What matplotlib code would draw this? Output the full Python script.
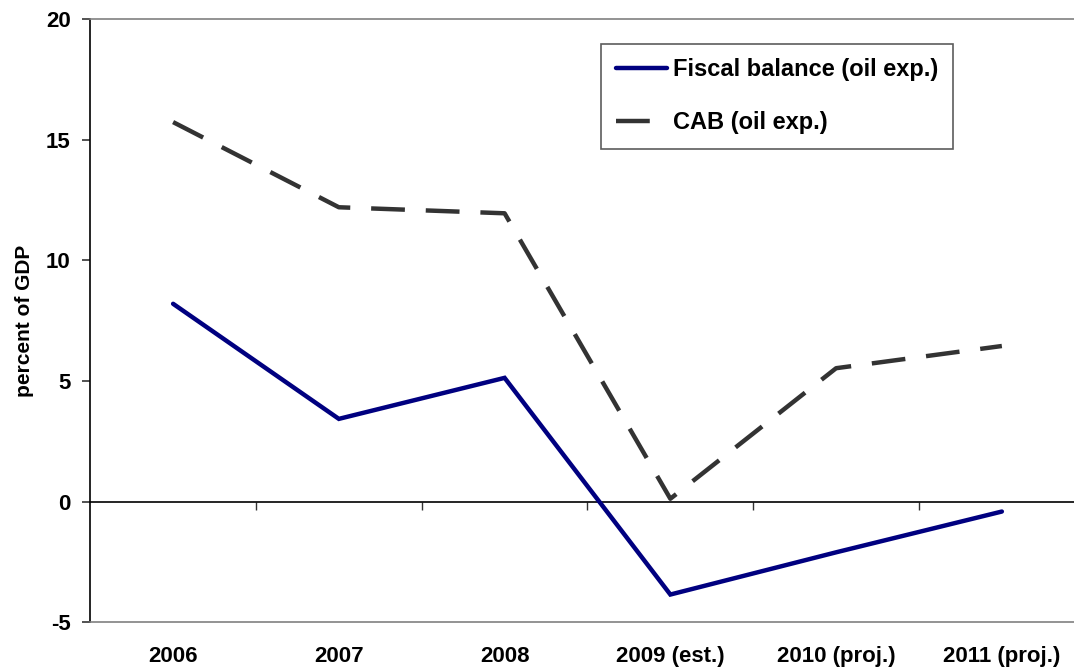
import matplotlib
matplotlib.use("Agg")
import matplotlib.pyplot as plt
import numpy as np

plt.rcParams['font.family'] = ['Liberation Sans', 'DejaVu Sans']
plt.rcParams['font.weight'] = 'bold'

categories = ["2006", "2007", "2008", "2009 (est.)", "2010 (proj.)", "2011 (proj.)"]
fiscal_balance = [8.2, 3.43, 5.13, -3.85, -2.1, -0.41]
cab = [15.73, 12.2, 11.95, 0.12, 5.53, 6.45]
y_ticks = [-5, 0, 5, 10, 15, 20]

fig = plt.figure(figsize=(10.74, 6.71), dpi=100)
ax = fig.add_axes([0.084, 0.0726, 0.926, 0.899])

x = np.arange(len(categories))
ax.plot(x, fiscal_balance, color="#000080", lw=3.2, solid_capstyle="round",
        solid_joinstyle="miter", label="Fiscal balance (oil exp.)")
ax.plot(x, cab, color="#333333", lw=3.2, dashes=(7.6, 4.7),
        dash_capstyle="butt", label="CAB (oil exp.)")

ax.set_xlim(-0.5, len(categories) - 0.5)
ax.set_ylim(-5, 20)

# frame: black left axis, grey top/bottom borders, no right border
ax.spines['right'].set_visible(False)
ax.spines['left'].set_color("#000000")
ax.spines['left'].set_linewidth(1.2)
for side in ("top", "bottom"):
    ax.spines[side].set_color("#808080")
    ax.spines[side].set_linewidth(1.2)

ax.set_yticks(y_ticks)
ax.set_yticklabels([str(v) for v in y_ticks], fontsize=16, fontweight="bold")
ax.tick_params(axis="y", direction="out", length=6, width=1.2, color="#333333", pad=8)

ax.set_xticks(x)
ax.set_xticklabels(categories, fontsize=16, fontweight="bold")
ax.tick_params(axis="x", length=0, pad=17)

# category axis drawn along zero with boundary tick marks
y0, y1 = ax.get_ylim()
zero_frac = (0 - y0) / (y1 - y0)
sec = ax.secondary_xaxis(zero_frac)
sec.spines['bottom'].set_color("#000000")
sec.spines['bottom'].set_linewidth(1.2)
sec.set_xticks(x[:-1] + 0.5)
sec.set_xticklabels([])
sec.tick_params(axis="x", direction="out", length=6, width=1.0, color="#333333")

ax.set_ylabel("percent of GDP", fontsize=15, fontweight="bold", labelpad=9)

leg = ax.legend(loc="upper left", bbox_to_anchor=(0.5135, 0.959), fontsize=17,
                frameon=True, fancybox=False, edgecolor="#333333",
                handlelength=2.2, handletextpad=0.22, labelspacing=1.25,
                borderpad=0.62, borderaxespad=0)
leg.get_frame().set_linewidth(1.2)
for t in leg.get_texts():
    t.set_fontweight("bold")

fig.savefig("out.png", dpi=100, facecolor="white")
